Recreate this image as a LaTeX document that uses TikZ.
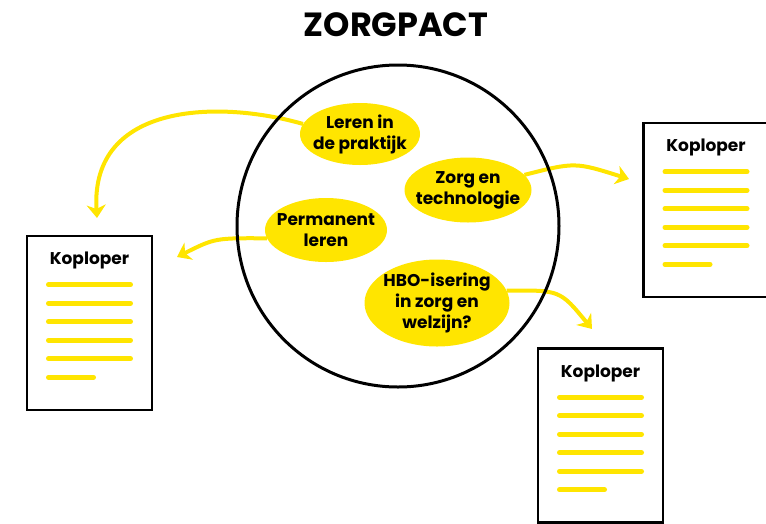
\documentclass[tikz,border=0pt]{standalone}
\usepackage{fontspec}
\setmainfont{Poppins}
\usepackage{tikz}
\usetikzlibrary{positioning}
\usetikzlibrary{shapes.geometric}
\usetikzlibrary{arrows.meta}
\definecolor{pactyellow}{HTML}{FFE500}
\tikzset{
  bubble_node/.style = {ellipse, fill=pactyellow, inner xsep=-20pt, inner ysep=-10pt,
    align=center, font=\bfseries\fontsize{17}{21}\selectfont},
  doc_node/.style = {rectangle, draw=black, line width=2.5pt, fill=white,
    minimum width=125pt, minimum height=174pt},
  doc_title/.style = {inner sep=0pt, font=\bfseries\fontsize{17}{20}\selectfont},
  doc_line/.style = {pactyellow, line width=5pt, line cap=round},
  arrow_line/.style = {pactyellow, line width=4pt,
    -{Stealth[length=13pt,width=19pt,inset=4pt]}},
  pact_circle/.style = {circle, draw=black, line width=3pt, minimum size=322pt}
}

\begin{document}
\begin{tikzpicture}[x=1pt, y=-1pt]
  \useasboundingbox (0,0) rectangle (766,523);
  \node [font=\bfseries\fontsize{33.5}{36}\selectfont] (title) at (396,25) {ZORGPACT};

  % onderwerpen
  \node [bubble_node, minimum width=120pt, minimum height=62pt] (leren) at (360,134) {Leren in\\de praktijk};
  \node [bubble_node, minimum width=127pt, minimum height=65pt] (zorg) at (468,190) {Zorg en\\technologie};
  \node [bubble_node, minimum width=122pt, minimum height=64pt] (permanent) at (326,230) {Permanent\\leren};
  \node [bubble_node, minimum width=145pt, minimum height=87pt] (hbo) at (437,303) {HBO-isering\\in zorg en\\welzijn?};

  % pijlen
  \coordinate (tip_a) at (97,218);
  \coordinate (tip_b) at (177,257);
  \coordinate (tip_c) at (629,179);
  \coordinate (tip_d) at (592,329);
  \draw [arrow_line] (leren.170) .. controls (220,100) and (90,102) .. (tip_a);
  \draw [arrow_line] (permanent.188) .. controls (215,238) .. (tip_b);
  \draw [arrow_line] (zorg.15) .. controls (575,162) .. (tip_c);
  \draw [arrow_line] (hbo.10) .. controls (560,290) .. (tip_d);

  \node [pact_circle] (pact) at (398,226) {};

  % koplopers
  \node [doc_node] (doc_left) at (89.5,323) {};
  \node [doc_node] (doc_right) at (706,210) {};
  \node [doc_node] (doc_bottom) at (600.5,435.5) {};
  \foreach \d in {doc_left, doc_right, doc_bottom} {
    \node [doc_title] (\d-title) at ([yshift=-26pt]\d.north) {Koploper};
    \foreach \k in {0,...,4}
      \draw [doc_line] ([xshift=-41pt, yshift=-50pt-18.5pt*\k]\d.north) -- ++(82,0);
    \draw [doc_line] ([xshift=-41pt, yshift=-142.5pt]\d.north) -- ++(45,0);
  }
\end{tikzpicture}
\end{document}
